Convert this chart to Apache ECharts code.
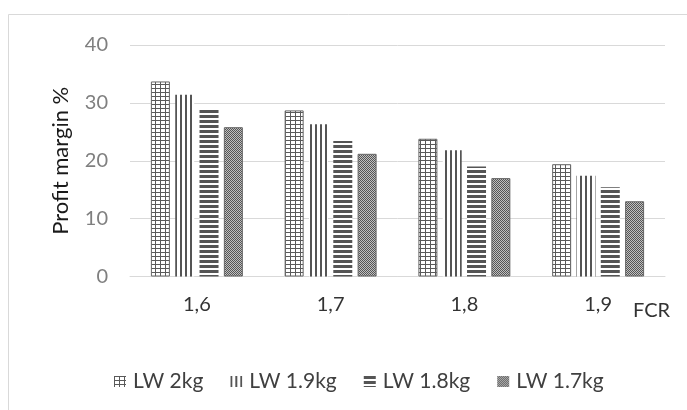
<!DOCTYPE html>
<html>
<head>
<meta charset="utf-8">
<script src="https://cdn.jsdelivr.net/npm/echarts@6/dist/echarts.min.js"></script>
<style>
html,body{margin:0;padding:0;background:#fff;}
#chart{width:687px;height:410px;}
</style>
</head>
<body>
<div id="chart"></div>
<script>
const categories = ['1,6', '1,7', '1,8', '1,9'];
const seriesNames = ['LW 2kg', 'LW 1.9kg', 'LW 1.8kg', 'LW 1.7kg'];
const lw2 = [33.7, 28.7, 23.8, 19.4];
const lw19 = [31.4, 26.3, 21.8, 17.4];
const lw18 = [28.8, 23.4, 19.0, 15.4];
const lw17 = [25.8, 21.2, 17.0, 13.0];
const yTicks = [0, 10, 20, 30, 40];

function makePattern(w, h, draw) {
  const c = document.createElement('canvas');
  c.width = w; c.height = h;
  const ctx = c.getContext('2d');
  ctx.fillStyle = '#ffffff';
  ctx.fillRect(0, 0, w, h);
  draw(ctx);
  return { image: c, repeat: 'repeat' };
}
const pGrid = makePattern(5, 4, ctx => {
  ctx.fillStyle = '#5a5a5a';
  ctx.fillRect(0, 0, 1, 4);
  ctx.fillRect(0, 0, 5, 1);
});
const pVert = makePattern(5, 1, ctx => {
  ctx.fillStyle = '#555555';
  ctx.fillRect(0, 0, 2, 1);
});
const pHoriz = makePattern(1, 5, ctx => {
  ctx.fillStyle = '#555555';
  ctx.fillRect(0, 0, 1, 3);
});
const pCheck = makePattern(2, 2, ctx => {
  ctx.fillStyle = '#c0c0c0';
  ctx.fillRect(0, 0, 2, 2);
  ctx.fillStyle = '#555555';
  ctx.fillRect(0, 0, 1, 1);
  ctx.fillRect(1, 1, 1, 1);
});

const dataSets = [lw2, lw19, lw18, lw17];
const patterns = [pGrid, pVert, pHoriz, pCheck];
const borders = [
  { borderColor: '#666666', borderWidth: 1 },
  { borderWidth: 0 },
  { borderWidth: 0 },
  { borderColor: '#666666', borderWidth: 1 }
];

const font = 'Lato';
const chart = echarts.init(document.getElementById('chart'), null, { renderer: 'canvas' });
chart.setOption({
  backgroundColor: '#ffffff',
  animation: false,
  graphic: [{
    type: 'rect',
    shape: { x: 8.5, y: 14.5, width: 720, height: 430 },
    style: { fill: 'none', stroke: '#d9d9d9', lineWidth: 1 },
    silent: true,
    z: -10
  }],
  grid: { left: 130, right: 22, top: 45, bottom: 133.5, containLabel: false },
  legend: {
    data: seriesNames,
    left: 109,
    top: 366,
    icon: 'rect',
    itemWidth: 12,
    itemHeight: 11,
    itemGap: 27,
    itemStyle: { borderWidth: 0 },
    textStyle: { fontFamily: font, fontSize: 21, color: '#404040', padding: [0, 0, 0, 2] }
  },
  xAxis: {
    type: 'category',
    data: categories,
    axisTick: { show: false },
    axisLine: { lineStyle: { color: '#d9d9d9', width: 1 } },
    axisLabel: { fontFamily: font, fontSize: 20, color: '#333333', margin: 18 },
    name: 'FCR',
    nameLocation: 'end',
    nameGap: -32,
    nameTextStyle: { fontFamily: font, fontSize: 20, color: '#333333', align: 'left', verticalAlign: 'top', padding: [24, 0, 0, 0] }
  },
  yAxis: {
    type: 'value',
    min: yTicks[0],
    max: yTicks[yTicks.length - 1],
    interval: yTicks[1] - yTicks[0],
    axisLine: { show: false },
    axisTick: { show: false },
    splitLine: { lineStyle: { color: '#d9d9d9', width: 1 } },
    axisLabel: { fontFamily: font, fontSize: 20, color: '#7f7f7f', margin: 22 },
    name: 'Profit margin %',
    nameLocation: 'middle',
    nameGap: 58,
    nameRotate: 90,
    nameTextStyle: { fontFamily: font, fontSize: 22, color: '#1a1a1a' }
  },
  series: seriesNames.map((n, i) => ({
    name: n,
    type: 'bar',
    data: dataSets[i],
    barWidth: 19,
    barGap: '28%',
    itemStyle: Object.assign({ color: patterns[i] }, borders[i])
  }))
});
</script>
</body>
</html>
